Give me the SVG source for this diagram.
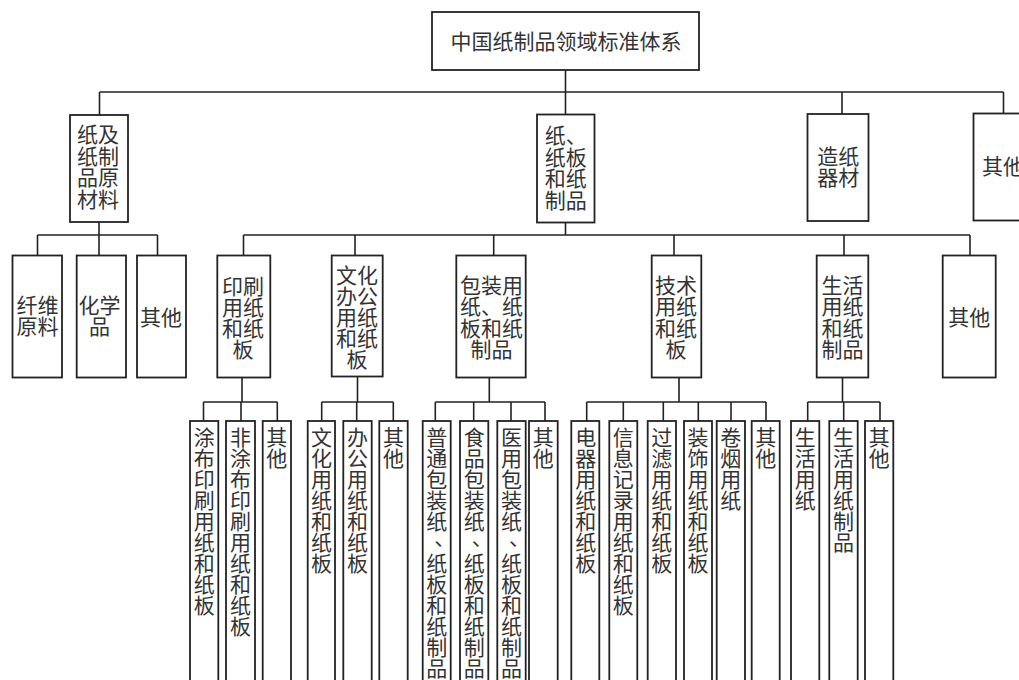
<svg xmlns="http://www.w3.org/2000/svg" width="1019" height="680" viewBox="0 0 1019 680">
<style>
.box{fill:#fff;stroke:#222;stroke-width:1.8}
.ln{fill:none;stroke:#222;stroke-width:1.6}
text{font-family:"Noto Sans CJK SC","Noto Sans CJK JP",sans-serif;font-size:21px;fill:#333;text-anchor:middle}
</style>
<rect width="1019" height="680" fill="#fff"/>
<g id="connectors">
<path class="ln" d="M565.5 70V92M99.5 92H1003.5M99.5 92V115M565.5 92V114.5M842 92V114M1003.5 92V113.5"/>
<path class="ln" d="M99 222V235M37.5 235H157.5M37.5 235V255.5M99 235V255.5M157.5 235V255.5"/>
<path class="ln" d="M565.5 222.5V235M243.5 235H970M243.5 235V255.5M355 235V255.5M493.7 235V255.5M674 235V255.5M844 235V255.5M970 235V255.5"/>
<path class="ln" d="M242 377.5V402M203.5 402H277.3M203.5 402V421M241 402V421M277.3 402V421"/>
<path class="ln" d="M357.5 376.5V402M321.7 402H393.3M321.7 402V421M356.7 402V421M393.3 402V421"/>
<path class="ln" d="M489.3 377V402M435.3 402H545M435.3 402V421M473.7 402V421M511 402V421M545 402V421"/>
<path class="ln" d="M679 377V402M586.7 402H766M586.7 402V421M623.3 402V421M663.3 402V421M698.3 402V421M731 402V421M766 402V421"/>
<path class="ln" d="M842.5 377V402M807.7 402H880M807.7 402V421M843.7 402V421M880 402V421"/>
</g>
<g id="root"><rect class="box" x="432" y="12" width="267" height="58"/><text x="566" y="49">中国纸制品领域标准体系</text></g>
<g id="raw"><rect class="box" x="70" y="115" width="58" height="107"/><text><tspan x="98" y="142">纸及</tspan><tspan x="98" dy="21.5">纸制</tspan><tspan x="98" dy="21.5">品原</tspan><tspan x="98" dy="21.5">材料</tspan></text></g>
<g id="paper"><rect class="box" x="537" y="114.5" width="57.5" height="108"/><text><tspan x="565.7" y="143">纸、</tspan><tspan x="565.7" dy="21.7">纸板</tspan><tspan x="565.7" dy="21.7">和纸</tspan><tspan x="565.7" dy="21.7">制品</tspan></text></g>
<g id="equip"><rect class="box" x="807.5" y="114" width="61" height="107"/><text><tspan x="838.3" y="164">造纸</tspan><tspan x="838.3" dy="21">器材</tspan></text></g>
<g id="other1"><rect class="box" x="973.5" y="113.5" width="60" height="107"/><text x="1003" y="173.7">其他</text></g>
<g id="fiber"><rect class="box" x="12.5" y="255.5" width="49.5" height="122"/><text><tspan x="37.5" y="313">纤维</tspan><tspan x="37.5" dy="21">原料</tspan></text></g>
<g id="chem"><rect class="box" x="76.7" y="255.5" width="49.3" height="122"/><text><tspan x="99.5" y="313">化学</tspan><tspan x="99.5" dy="21">品</tspan></text></g>
<g id="other2"><rect class="box" x="137" y="255.5" width="49" height="122"/><text x="161" y="325">其他</text></g>
<g id="print"><rect class="box" x="217.3" y="255.5" width="53" height="122"/><text><tspan x="243" y="293.5">印刷</tspan><tspan x="243" dy="21">用纸</tspan><tspan x="243" dy="21">和纸</tspan><tspan x="243" dy="21">板</tspan></text></g>
<g id="office"><rect class="box" x="331.7" y="255.5" width="51" height="121"/><text><tspan x="356.9" y="283">文化</tspan><tspan x="356.9" dy="21">办公</tspan><tspan x="356.9" dy="21">用纸</tspan><tspan x="356.9" dy="21">和纸</tspan><tspan x="356.9" dy="21">板</tspan></text></g>
<g id="pack"><rect class="box" x="456.3" y="255.5" width="69.4" height="122"/><text><tspan x="491.5" y="293">包装用</tspan><tspan x="491.5" dy="21.3">纸、纸</tspan><tspan x="491.5" dy="21.3">板和纸</tspan><tspan x="491.5" dy="21.3">制品</tspan></text></g>
<g id="tech"><rect class="box" x="651.7" y="255.5" width="49.6" height="122"/><text><tspan x="676" y="293">技术</tspan><tspan x="676" dy="21.3">用纸</tspan><tspan x="676" dy="21.3">和纸</tspan><tspan x="676" dy="21.3">板</tspan></text></g>
<g id="life"><rect class="box" x="816.7" y="255.5" width="51.6" height="122"/><text><tspan x="842.5" y="293">生活</tspan><tspan x="842.5" dy="21.3">用纸</tspan><tspan x="842.5" dy="21.3">和纸</tspan><tspan x="842.5" dy="21.3">制品</tspan></text></g>
<g id="other3"><rect class="box" x="942.7" y="255.5" width="53" height="122"/><text x="969.2" y="325">其他</text></g>

<g id="coated"><rect class="box" x="190" y="421" width="28.3" height="280"/><text><tspan x="204.2" y="445">涂</tspan><tspan x="204.2" dy="21">布</tspan><tspan x="204.2" dy="21">印</tspan><tspan x="204.2" dy="21">刷</tspan><tspan x="204.2" dy="21">用</tspan><tspan x="204.2" dy="21">纸</tspan><tspan x="204.2" dy="21">和</tspan><tspan x="204.2" dy="21">纸</tspan><tspan x="204.2" dy="21">板</tspan></text></g>
<g id="uncoated"><rect class="box" x="226" y="421" width="29" height="280"/><text><tspan x="240.5" y="445">非</tspan><tspan x="240.5" dy="21">涂</tspan><tspan x="240.5" dy="21">布</tspan><tspan x="240.5" dy="21">印</tspan><tspan x="240.5" dy="21">刷</tspan><tspan x="240.5" dy="21">用</tspan><tspan x="240.5" dy="21">纸</tspan><tspan x="240.5" dy="21">和</tspan><tspan x="240.5" dy="21">纸</tspan><tspan x="240.5" dy="21">板</tspan></text></g>
<g id="print-other"><rect class="box" x="262.7" y="421" width="28.3" height="280"/><text><tspan x="276.8" y="445">其</tspan><tspan x="276.8" dy="21">他</tspan></text></g>

<g id="culture"><rect class="box" x="307.7" y="421" width="27.3" height="280"/><text><tspan x="321.4" y="445">文</tspan><tspan x="321.4" dy="21">化</tspan><tspan x="321.4" dy="21">用</tspan><tspan x="321.4" dy="21">纸</tspan><tspan x="321.4" dy="21">和</tspan><tspan x="321.4" dy="21">纸</tspan><tspan x="321.4" dy="21">板</tspan></text></g>
<g id="officepaper"><rect class="box" x="343.3" y="421" width="28.4" height="280"/><text><tspan x="357.5" y="445">办</tspan><tspan x="357.5" dy="21">公</tspan><tspan x="357.5" dy="21">用</tspan><tspan x="357.5" dy="21">纸</tspan><tspan x="357.5" dy="21">和</tspan><tspan x="357.5" dy="21">纸</tspan><tspan x="357.5" dy="21">板</tspan></text></g>
<g id="office-other"><rect class="box" x="379.3" y="421" width="28.4" height="280"/><text><tspan x="393.5" y="445">其</tspan><tspan x="393.5" dy="21">他</tspan></text></g>

<g id="general-pack"><rect class="box" x="422.7" y="421" width="28" height="280"/><text><tspan x="436.7" y="445">普</tspan><tspan x="436.7" dy="21">通</tspan><tspan x="436.7" dy="21">包</tspan><tspan x="436.7" dy="21">装</tspan><tspan x="436.7" dy="21">纸</tspan><tspan x="444.7" dy="15.5">、</tspan><tspan x="436.7" dy="26.5">纸</tspan><tspan x="436.7" dy="21">板</tspan><tspan x="436.7" dy="21">和</tspan><tspan x="436.7" dy="21">纸</tspan><tspan x="436.7" dy="21">制</tspan><tspan x="436.7" dy="21">品</tspan></text></g>
<g id="food-pack"><rect class="box" x="460" y="421" width="28.3" height="280"/><text><tspan x="474.2" y="445">食</tspan><tspan x="474.2" dy="21">品</tspan><tspan x="474.2" dy="21">包</tspan><tspan x="474.2" dy="21">装</tspan><tspan x="474.2" dy="21">纸</tspan><tspan x="482.2" dy="15.5">、</tspan><tspan x="474.2" dy="26.5">纸</tspan><tspan x="474.2" dy="21">板</tspan><tspan x="474.2" dy="21">和</tspan><tspan x="474.2" dy="21">纸</tspan><tspan x="474.2" dy="21">制</tspan><tspan x="474.2" dy="21">品</tspan></text></g>
<g id="medical-pack"><rect class="box" x="497.3" y="421" width="28.4" height="280"/><text><tspan x="511.5" y="445">医</tspan><tspan x="511.5" dy="21">用</tspan><tspan x="511.5" dy="21">包</tspan><tspan x="511.5" dy="21">装</tspan><tspan x="511.5" dy="21">纸</tspan><tspan x="519.5" dy="15.5">、</tspan><tspan x="511.5" dy="26.5">纸</tspan><tspan x="511.5" dy="21">板</tspan><tspan x="511.5" dy="21">和</tspan><tspan x="511.5" dy="21">纸</tspan><tspan x="511.5" dy="21">制</tspan><tspan x="511.5" dy="21">品</tspan></text></g>
<g id="pack-other"><rect class="box" x="529" y="421" width="28.7" height="280"/><text><tspan x="543.3" y="445">其</tspan><tspan x="543.3" dy="21">他</tspan></text></g>

<g id="electric"><rect class="box" x="571.3" y="421" width="28" height="280"/><text><tspan x="585.8" y="445">电</tspan><tspan x="585.8" dy="21">器</tspan><tspan x="585.8" dy="21">用</tspan><tspan x="585.8" dy="21">纸</tspan><tspan x="585.8" dy="21">和</tspan><tspan x="585.8" dy="21">纸</tspan><tspan x="585.8" dy="21">板</tspan></text></g>
<g id="record"><rect class="box" x="609.3" y="421" width="28" height="280"/><text><tspan x="623.3" y="445">信</tspan><tspan x="623.3" dy="21">息</tspan><tspan x="623.3" dy="21">记</tspan><tspan x="623.3" dy="21">录</tspan><tspan x="623.3" dy="21">用</tspan><tspan x="623.3" dy="21">纸</tspan><tspan x="623.3" dy="21">和</tspan><tspan x="623.3" dy="21">纸</tspan><tspan x="623.3" dy="21">板</tspan></text></g>
<g id="filter"><rect class="box" x="647.7" y="421" width="28.3" height="280"/><text><tspan x="661.8" y="445">过</tspan><tspan x="661.8" dy="21">滤</tspan><tspan x="661.8" dy="21">用</tspan><tspan x="661.8" dy="21">纸</tspan><tspan x="661.8" dy="21">和</tspan><tspan x="661.8" dy="21">纸</tspan><tspan x="661.8" dy="21">板</tspan></text></g>
<g id="decor"><rect class="box" x="684" y="421" width="28" height="280"/><text><tspan x="698" y="445">装</tspan><tspan x="698" dy="21">饰</tspan><tspan x="698" dy="21">用</tspan><tspan x="698" dy="21">纸</tspan><tspan x="698" dy="21">和</tspan><tspan x="698" dy="21">纸</tspan><tspan x="698" dy="21">板</tspan></text></g>
<g id="cigarette"><rect class="box" x="716.7" y="421" width="28.3" height="280"/><text><tspan x="730.8" y="445">卷</tspan><tspan x="730.8" dy="21">烟</tspan><tspan x="730.8" dy="21">用</tspan><tspan x="730.8" dy="21">纸</tspan></text></g>
<g id="tech-other"><rect class="box" x="751.7" y="421" width="28" height="280"/><text><tspan x="765.7" y="445">其</tspan><tspan x="765.7" dy="21">他</tspan></text></g>

<g id="tissue"><rect class="box" x="791" y="421" width="28.3" height="280"/><text><tspan x="805.2" y="445">生</tspan><tspan x="805.2" dy="21">活</tspan><tspan x="805.2" dy="21">用</tspan><tspan x="805.2" dy="21">纸</tspan></text></g>
<g id="tissue-products"><rect class="box" x="829.3" y="421" width="28.4" height="280"/><text><tspan x="843.5" y="445">生</tspan><tspan x="843.5" dy="21">活</tspan><tspan x="843.5" dy="21">用</tspan><tspan x="843.5" dy="21">纸</tspan><tspan x="843.5" dy="21">制</tspan><tspan x="843.5" dy="21">品</tspan></text></g>
<g id="life-other"><rect class="box" x="865" y="421" width="28.3" height="280"/><text><tspan x="879.2" y="445">其</tspan><tspan x="879.2" dy="21">他</tspan></text></g>
</svg>
